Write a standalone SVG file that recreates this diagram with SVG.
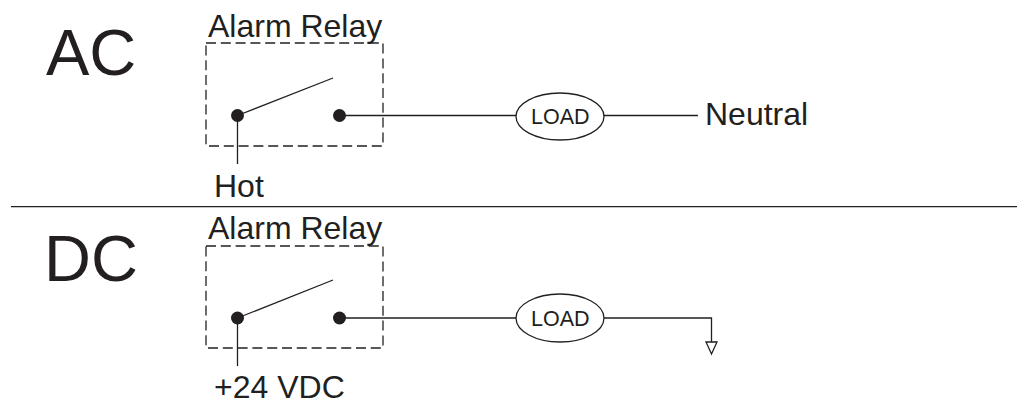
<svg xmlns="http://www.w3.org/2000/svg" width="1018" height="402" viewBox="0 0 1018 402">
<style>
text{font-family:"Liberation Sans",Arial,sans-serif;fill:#231f20}
.big{font-size:65px}
.lab{font-size:32px}
.load{font-size:21.500px}
.w{fill:none;stroke:#231f20;stroke-width:1.300}
.box{fill:none;stroke:#231f20;stroke-width:1.300;stroke-dasharray:10 4.800}
.e{fill:#fff;stroke:#231f20;stroke-width:1.300}
.d{fill:#231f20}
</style>
<rect width="1018" height="402" fill="#fff"/>
<g id="connectors">
<path class="w" d="M237.500 115.500L333 78M237.500 115.500V164M339.500 115.500H516M604 115.500H698"/>
<path class="w" d="M237.500 318L333 280M237.500 318V366M339.500 318H516M604 318H711.500V342"/>
<path class="w" d="M11 206.700H1017"/>
<path class="w" d="M706 342H717L711.500 354Z"/>
</g>
<g id="ac-title"><text class="big" x="46" y="75">AC</text></g>
<g id="ac-relay"><rect class="box" x="206" y="43" width="177" height="103"/><text class="lab" x="208" y="37">Alarm Relay</text><circle class="d" cx="237.500" cy="115.500" r="6.500"/><circle class="d" cx="339.500" cy="115.500" r="6.500"/></g>
<g id="ac-load"><ellipse class="e" cx="560" cy="116.500" rx="44" ry="23.500"/><text class="load" x="531" y="124">LOAD</text></g>
<g id="ac-neutral"><text class="lab" x="705" y="125">Neutral</text></g>
<g id="ac-hot"><text class="lab" x="214" y="197">Hot</text></g>
<g id="dc-title"><text class="big" x="44" y="281">DC</text></g>
<g id="dc-relay"><rect class="box" x="206" y="246" width="177" height="102"/><text class="lab" x="208" y="239">Alarm Relay</text><circle class="d" cx="237.500" cy="318" r="6.500"/><circle class="d" cx="339.500" cy="318" r="6.500"/></g>
<g id="dc-load"><ellipse class="e" cx="560" cy="318" rx="44" ry="24"/><text class="load" x="531" y="326">LOAD</text></g>
<g id="dc-supply"><text class="lab" x="214" y="398">+24 VDC</text></g>
</svg>
